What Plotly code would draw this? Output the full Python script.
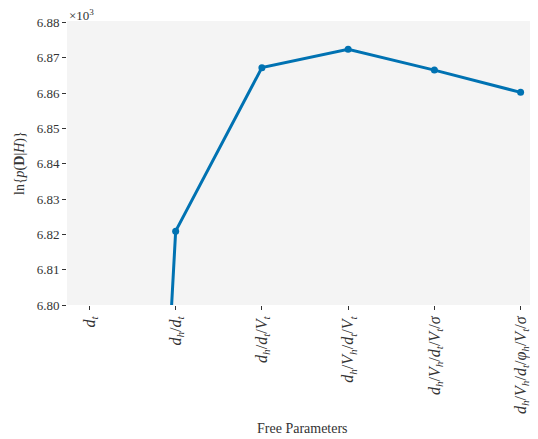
import plotly.graph_objects as go

categories = [
    "<i>d</i><sub><i>t</i></sub>",
    "<i>d</i><sub><i>h</i></sub>/<i>d</i><sub><i>t</i></sub>",
    "<i>d</i><sub><i>h</i></sub>/<i>d</i><sub><i>t</i></sub>/<i>V</i><sub><i>t</i></sub>",
    "<i>d</i><sub><i>h</i></sub>/<i>V</i><sub><i>h</i></sub>/<i>d</i><sub><i>t</i></sub>/<i>V</i><sub><i>t</i></sub>",
    "<i>d</i><sub><i>h</i></sub>/<i>V</i><sub><i>h</i></sub>/<i>d</i><sub><i>t</i></sub>/<i>V</i><sub><i>t</i></sub>/<i>σ</i>",
    "<i>d</i><sub><i>h</i></sub>/<i>V</i><sub><i>h</i></sub>/<i>d</i><sub><i>t</i></sub>/<i>φ</i><sub><i>h</i></sub>/<i>V</i><sub><i>t</i></sub>/<i>σ</i>",
]
log_evidence = [6374.0, 6820.9, 6867.2, 6872.4, 6866.5, 6860.2]
y_ticks = [6.80, 6.81, 6.82, 6.83, 6.84, 6.85, 6.86, 6.87, 6.88]

x_idx = list(range(len(categories)))
y_scaled = [v / 1000.0 for v in log_evidence]

font_family = "Liberation Serif, DejaVu Serif, serif"
txt_color = "#333333"

fig = go.Figure()
fig.add_trace(go.Scatter(
    x=x_idx, y=y_scaled, mode="lines+markers",
    line=dict(color="#0072B2", width=3),
    marker=dict(color="#0072B2", size=7),
    cliponaxis=True, showlegend=False,
))

# page body has an 8px margin, so the figure is sized/offset to compensate
fig.update_layout(
    width=530, height=431,
    margin=dict(l=59, r=1, t=13, b=134, autoexpand=False),
    paper_bgcolor="white",
    plot_bgcolor="#f4f4f4",
    font=dict(family=font_family, size=13, color=txt_color),
    xaxis=dict(
        range=[-0.26, 5.19], automargin=False,
        tickmode="array", tickvals=x_idx, ticktext=categories,
        tickangle=-90, ticks="outside", ticklen=4, tickcolor=txt_color,
        showgrid=False, zeroline=False, showline=False,
        tickfont=dict(size=16, family=font_family, color=txt_color),
    ),
    yaxis=dict(
        range=[6.80, 6.8804], automargin=False,
        tickmode="array", tickvals=y_ticks,
        ticktext=[f"{t:.2f}" for t in y_ticks],
        ticks="outside", ticklen=4, tickcolor=txt_color,
        showgrid=False, zeroline=False, showline=False,
        tickfont=dict(size=13, family=font_family, color=txt_color),
    ),
    annotations=[
        dict(xref="paper", yref="paper", x=0, y=1, xanchor="left", yanchor="bottom",
             text="×10<sup>3</sup>", showarrow=False, yshift=-4,
             font=dict(size=13, family=font_family, color=txt_color)),
        dict(xref="paper", yref="paper", x=0.5, y=0, xanchor="center", yanchor="middle",
             text="Free Parameters", showarrow=False, yshift=-123,
             font=dict(size=14, family=font_family, color=txt_color)),
        dict(xref="paper", yref="paper", x=0, y=0.5, xanchor="center", yanchor="middle",
             text="ln{<i>p</i>(<b>D</b>|<i>H</i>)}", showarrow=False, textangle=-90, xshift=-47,
             font=dict(size=14, family=font_family, color=txt_color)),
    ],
)

fig.write_html("out.html")
